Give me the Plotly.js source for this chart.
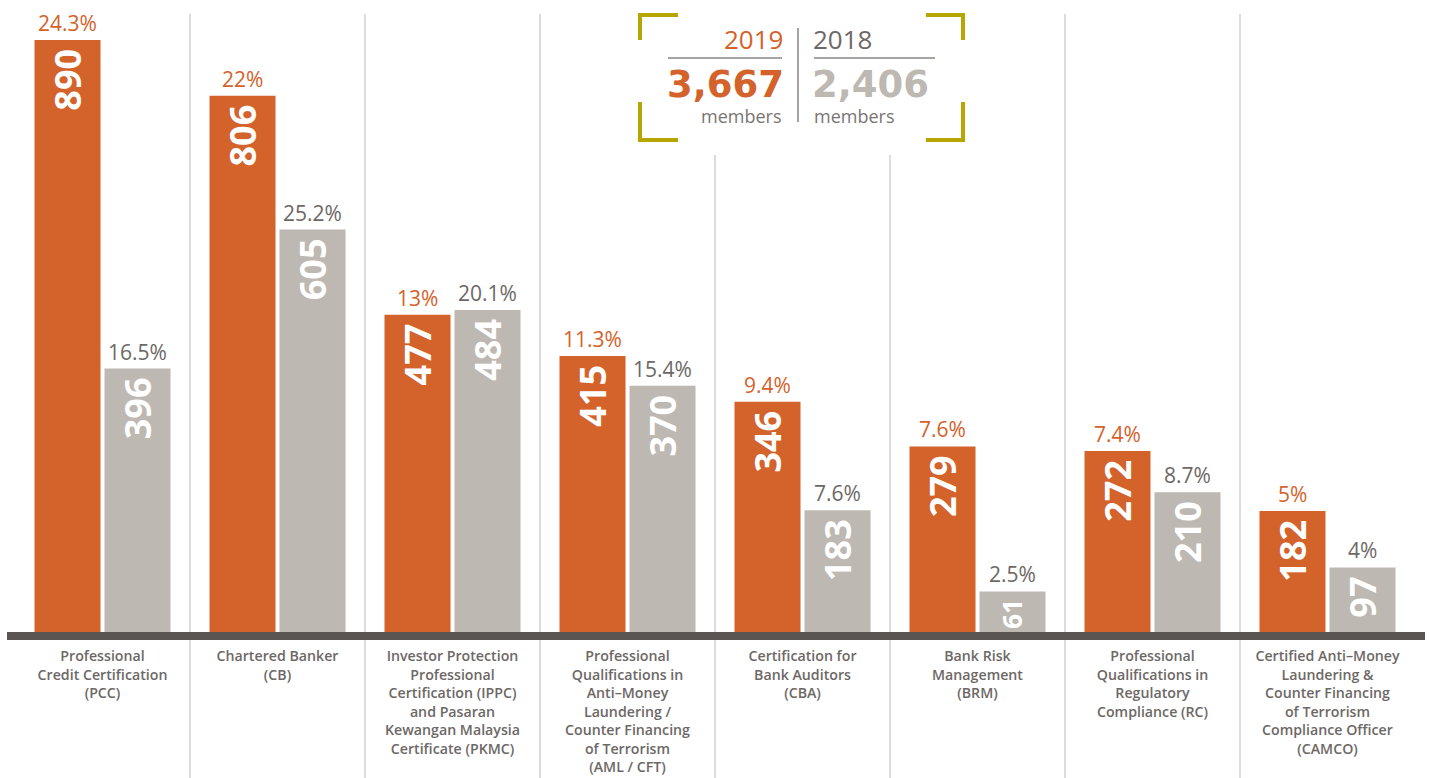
<!DOCTYPE html>
<html>
<head>
<meta charset="utf-8">
<script src="https://cdn.plot.ly/plotly-3.0.1.min.js"></script>
<style>
  html, body { margin: 0; padding: 0; background: #fff; }
  #chart { width: 1430px; height: 778px; }
</style>
</head>
<body>
<div id="chart"></div>
<script>
const categories = [
  'Professional<br>Credit Certification<br>(PCC)',
  'Chartered Banker<br>(CB)',
  'Investor Protection<br>Professional<br>Certification (IPPC)<br>and Pasaran<br>Kewangan Malaysia<br>Certificate (PKMC)',
  'Professional<br>Qualifications in<br>Anti–Money<br>Laundering /<br>Counter Financing<br>of Terrorism<br>(AML / CFT)',
  'Certification for<br>Bank Auditors<br>(CBA)',
  'Bank Risk<br>Management<br>(BRM)',
  'Professional<br>Qualifications in<br>Regulatory<br>Compliance (RC)',
  'Certified Anti–Money<br>Laundering &amp;<br>Counter Financing<br>of Terrorism<br>Compliance Officer<br>(CAMCO)'
];
const members2019 = [890, 806, 477, 415, 346, 279, 272, 182];
const members2018 = [396, 605, 484, 370, 183, 61, 210, 97];
const share2019 = ['24.3%', '22%', '13%', '11.3%', '9.4%', '7.6%', '7.4%', '5%'];
const share2018 = ['16.5%', '25.2%', '20.1%', '15.4%', '7.6%', '2.5%', '8.7%', '4%'];
const years = ['2019', '2018'];
const totals = ['3,667', '2,406'];

const ORANGE = '#d4622b';
const TAUPE = '#bdb8b1';
const DARKGREY = '#6d6866';
const OLIVE = '#b7a500';

// pixel -> paper helpers (plot area: x 15..1415, y 0..632)
const px2x = p => (p - 15) / 1400;
const py2y = p => (632 - p) / 632;

function barTrace(values, color) {
  return {
    type: 'bar',
    x: categories,
    y: values,
    marker: { color: color },
    // trailing thin space keeps the number a bit off the bar top
    text: values.map(v => v + '\u2009'),
    textposition: 'inside',
    insidetextanchor: 'end',
    textangle: -90,
    textfont: { family: 'Open Sans', size: 36, color: '#ffffff', weight: 700 },
    hoverinfo: 'skip'
  };
}

const traces = [barTrace(members2019, ORANGE), barTrace(members2018, TAUPE)];

const shapes = [];
for (let i = 0; i < categories.length - 1; i++) {
  shapes.push({
    type: 'line', xref: 'x', yref: 'paper',
    x0: i + 0.5, x1: i + 0.5,
    y0: py2y(778), y1: py2y(i === 3 || i === 4 ? 155 : 14),
    line: { color: '#d3cfcb', width: 1.5 }
  });
}
// base line
shapes.push({
  type: 'rect', xref: 'paper', yref: 'paper',
  x0: px2x(7), x1: px2x(1425), y0: py2y(640), y1: py2y(632),
  fillcolor: '#5a5552', line: { width: 0 }
});

// bracket corners of the totals box
function path(points) {
  return 'M' + points.map(p => px2x(p[0]) + ',' + py2y(p[1])).join(' L');
}
[
  [[678, 15], [640, 15], [640, 40]],
  [[640, 102], [640, 140], [678, 140]],
  [[926, 15], [963, 15], [963, 40]],
  [[963, 102], [963, 140], [926, 140]]
].forEach(pts => shapes.push({
  type: 'path', xref: 'paper', yref: 'paper', path: path(pts),
  line: { color: OLIVE, width: 4 }
}));
shapes.push({ type: 'line', xref: 'paper', yref: 'paper',
  x0: px2x(668), x1: px2x(782), y0: py2y(58), y1: py2y(58),
  line: { color: '#a9a4a0', width: 2 } });
shapes.push({ type: 'line', xref: 'paper', yref: 'paper',
  x0: px2x(814), x1: px2x(935), y0: py2y(58), y1: py2y(58),
  line: { color: '#a9a4a0', width: 2 } });
shapes.push({ type: 'line', xref: 'paper', yref: 'paper',
  x0: px2x(798), x1: px2x(798), y0: py2y(28), y1: py2y(122),
  line: { color: '#8a8582', width: 1.5 } });

const annotations = [];
categories.forEach((c, i) => {
  annotations.push({
    x: c, y: members2019[i], xref: 'x', yref: 'y', xshift: -35,
    yanchor: 'bottom', yshift: 1, showarrow: false, text: share2019[i],
    font: { family: 'Open Sans', size: 21, color: ORANGE, weight: 500 }
  });
  annotations.push({
    x: c, y: members2018[i], xref: 'x', yref: 'y', xshift: 35,
    yanchor: 'bottom', yshift: 1, showarrow: false, text: share2018[i],
    font: { family: 'Open Sans', size: 21, color: DARKGREY, weight: 500 }
  });
});

function boxText(text, xPx, yPx, anchor, font) {
  annotations.push({
    xref: 'paper', yref: 'paper', x: px2x(xPx), y: py2y(yPx),
    xanchor: anchor, yanchor: 'middle', showarrow: false, text: text, font: font
  });
}
boxText(years[0], 785, 39, 'right', { family: 'Open Sans', size: 26, color: ORANGE, weight: 500 });
boxText(years[1], 811, 39, 'left', { family: 'Open Sans', size: 26, color: DARKGREY, weight: 500 });
boxText(totals[0], 786, 84, 'right', { family: 'DejaVu Sans', size: 37, color: ORANGE, weight: 700 });
boxText(totals[1], 810, 84, 'left', { family: 'DejaVu Sans', size: 37, color: TAUPE, weight: 700 });
boxText('members', 784, 116, 'right', { family: 'Open Sans', size: 18, color: '#7a7573' });
boxText('members', 812, 116, 'left', { family: 'Open Sans', size: 18, color: '#7a7573' });

const layout = {
  width: 1430, height: 778,
  margin: { l: 15, r: 15, t: 0, b: 146 },
  paper_bgcolor: '#ffffff', plot_bgcolor: '#ffffff',
  barmode: 'group', bargap: 0.2, bargroupgap: 0.057,
  showlegend: false,
  xaxis: {
    type: 'category', tickangle: 0, showgrid: false, zeroline: false,
    showline: false, ticks: '', ticklabelstandoff: 14,
    tickfont: { family: 'Open Sans', size: 14.2, color: DARKGREY, weight: 600 },
    fixedrange: true
  },
  yaxis: {
    range: [0, 950], showgrid: false, zeroline: false, showline: false,
    showticklabels: false, ticks: '', fixedrange: true
  },
  shapes: shapes,
  annotations: annotations
};

Plotly.newPlot('chart', traces, layout, { displayModeBar: false, staticPlot: true });
</script>
</body>
</html>
